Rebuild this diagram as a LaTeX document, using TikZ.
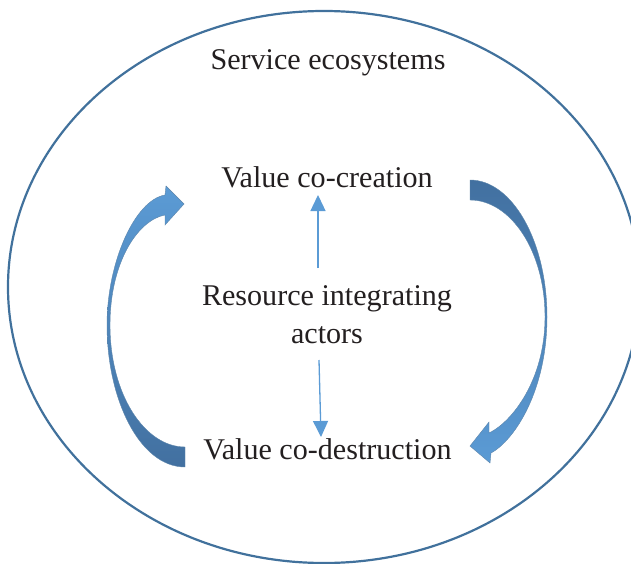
\documentclass[tikz,border=0pt]{standalone}
\usepackage{fontspec}
\setmainfont{Liberation Serif}
\usetikzlibrary{arrows.meta}
\definecolor{edgeblue}{RGB}{65,113,156}
\definecolor{lightblue}{RGB}{91,155,213}
\definecolor{darkblue}{RGB}{66,112,160}
\definecolor{txt}{RGB}{35,31,32}
\begin{document}
\begin{tikzpicture}[x=1pt,y=-1pt,
  lbl/.style={anchor=base,inner sep=0pt,font=\fontsize{30.1}{34}\selectfont,text=txt},
  thinarrow/.style={draw=lightblue,line width=1.3pt,-{Triangle[length=16pt,width=15pt]}},
  bendarrow/.style={draw=edgeblue!85,line width=0.4pt}]
\useasboundingbox (0,0) rectangle (631,564);
\begin{scope}
  \clip (0,0) rectangle (631,564);
  \draw[edgeblue,line width=2.2pt] (324,287) ellipse [x radius=316pt, y radius=276pt];
\end{scope}

\node[lbl] (eco) at (328,70) {Service ecosystems};
\node[lbl] (vcc) at (327,187.5) {Value co-creation};
\node[lbl] (ria) at (327,305.5) {Resource integrating};
\node[lbl] (act) at (327,343.5) {actors};
\node[lbl] (vcd) at (327.5,459.5) {Value co-destruction};

\coordinate (upS) at (318,268);
\coordinate (upE) at (318,195);
\coordinate (dnS) at (319,360);
\coordinate (dnE) at (321,437);
\draw[thinarrow] (upS) -- (upE);
\draw[thinarrow] (dnS) -- (dnE);

% left curved arrow (from co-destruction up to co-creation)
\path[bendarrow, top color=lightblue, bottom color=darkblue]
  (185,467) .. controls (140,467) and (107,400) .. (107,325)
  .. controls (107,262) and (135,200) .. (165,195)
  -- (166,186) -- (184,204) -- (165,225) -- (165,215)
  .. controls (138,220) and (110,262) .. (110,325)
  .. controls (110,395) and (145,447) .. (185,447) -- cycle;

% right curved arrow (from co-creation down to co-destruction)
\path[bendarrow, top color=darkblue, bottom color=lightblue]
  (470,180) .. controls (512,180) and (547,241) .. (547,317)
  .. controls (547,390) and (515,440) .. (491,453)
  -- (490,463) -- (470,446) -- (489,422) -- (489,433)
  .. controls (512,422) and (545,380) .. (545,317)
  .. controls (545,250) and (510,200) .. (470,200) -- cycle;
\end{tikzpicture}
\end{document}
